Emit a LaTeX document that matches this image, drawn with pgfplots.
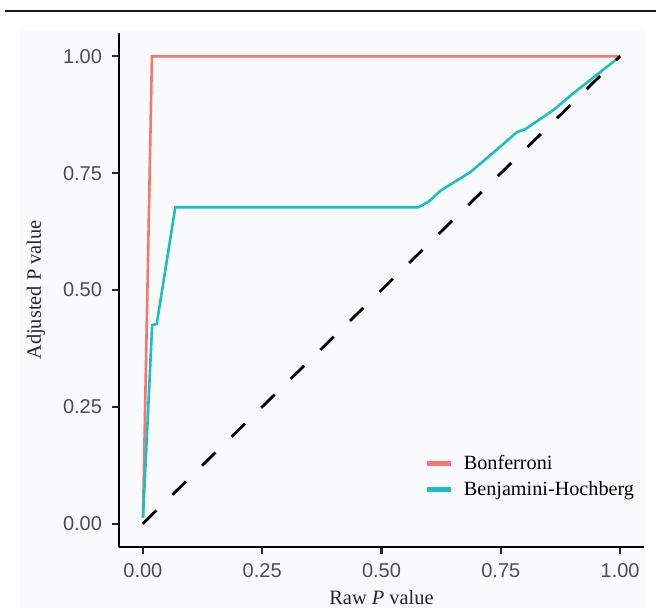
\documentclass[border=0pt]{standalone}
\usepackage{fontspec}
\setmainfont{Liberation Serif}
\newfontfamily\tickfont{Liberation Sans}
\usepackage{pgfplots}
\pgfplotsset{compat=1.18}
\definecolor{bonf}{HTML}{F8766D}
\definecolor{bh}{HTML}{1CBFC6}
\definecolor{tickgrey}{HTML}{4D4D4D}
\definecolor{panelbg}{RGB}{249,250,252}

\begin{document}
\begin{tikzpicture}
\useasboundingbox (-59.5pt,-30.5pt) rectangle (268.5pt,273.5pt);
\fill[panelbg] (-49.5pt,-30.5pt) rectangle (263pt,258.5pt);
\draw[black!90, line width=1.1pt] (-57pt,268pt) -- (268.5pt,268pt);
\begin{axis}[
  at={(0,0)}, anchor=south west,
  scale only axis,
  width=262.5pt, height=257pt,
  xmin=-0.05, xmax=1.05, ymin=-0.05, ymax=1.05,
  axis lines=left,
  axis line style={-, black, line width=1.2pt},
  xtick={0,0.25,0.5,0.75,1}, ytick={0,0.25,0.5,0.75,1},
  xticklabels={0.00,0.25,0.50,0.75,1.00},
  yticklabels={0.00,0.25,0.50,0.75,1.00},
  tick align=outside,
  major tick length=3.5pt,
  tick style={black!85, line width=1.1pt},
  ticklabel style={font=\tickfont\fontsize{10}{11}\selectfont, text=tickgrey},
  /pgf/number format/assume math mode=true,
  yticklabel style={xshift=-1.5pt},
  xticklabel style={yshift=-1pt},
  xlabel={Raw \textit{P} value},
  ylabel={Adjusted P value},
  label style={font=\fontsize{10.2}{12}\selectfont, text=black!85},
  xlabel style={at={(axis description cs:0.5,-0.099)}, anchor=center},
  ylabel style={at={(axis description cs:-0.158,0.5)}, anchor=center, rotate=0},
  clip=false,
  legend style={
    at={(axis description cs:0.57,0.195)}, anchor=north west,
    draw=none, fill=none,
    font=\fontsize{10.1}{12}\selectfont,
    row sep=0.5pt,
    /tikz/every even column/.append style={column sep=3pt},
  },
  legend cell align=left,
  legend image code/.code={\draw[#1, line width=2.6pt] (0pt,0pt) -- (12pt,0pt);},
]
\addplot[color=bonf, line width=1.3pt]
  coordinates {(0.0003,0.013) (0.019,1.0) (1.0,1.0)};
\addlegendentry{\hspace{3pt}Bonferroni}
\addplot[color=bh, line width=1.3pt]
  coordinates {(0.0003,0.013) (0.0195,0.425) (0.029,0.427) (0.068,0.677)
    (0.577,0.677) (0.60,0.690) (0.623,0.712) (0.632,0.718) (0.686,0.752)
    (0.748,0.806) (0.784,0.838) (0.801,0.844) (0.860,0.885) (0.902,0.921)
    (0.958,0.966) (1.0,1.0)};
\addlegendentry{\hspace{3pt}Benjamini-Hochberg}
\addplot[forget plot, black, line width=1.4pt, dash pattern=on 9.4pt off 11.3pt]
  coordinates {(0,0) (1,1)};
\end{axis}
\end{tikzpicture}
\end{document}
